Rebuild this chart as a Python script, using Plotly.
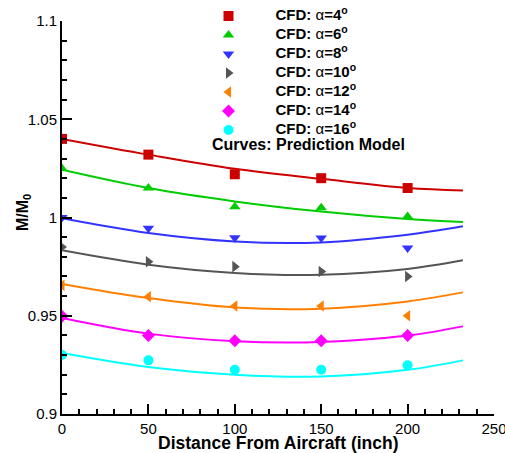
import plotly.graph_objects as go

# ---------------- data ----------------
x_cfd = [0, 50, 100, 150, 200]
alphas = [4, 6, 8, 10, 12, 14, 16]
cfd_values = {
    4:  [1.040, 1.032, 1.022, 1.020, 1.015],
    6:  [1.025, 1.015, 1.0055, 1.005, 1.0005],
    8:  [1.000, 0.9945, 0.9897, 0.9896, 0.9845],
    10: [0.985, 0.9775, 0.9750, 0.9725, 0.9700],
    12: [0.9655, 0.9597, 0.9550, 0.9550, 0.9500],
    14: [0.9497, 0.9400, 0.9373, 0.9373, 0.9400],
    16: [0.9300, 0.9273, 0.9225, 0.9225, 0.9248],
}
x_model = [0, 50, 100, 150, 200, 232]
model_values = {
    4:  [1.0400, 1.0320, 1.0248, 1.0197, 1.0150, 1.0138],
    6:  [1.0243, 1.0150, 1.0082, 1.0030, 0.9992, 0.9977],
    8:  [0.9996, 0.9921, 0.9878, 0.9873, 0.9912, 0.9955],
    10: [0.9833, 0.9760, 0.9718, 0.9709, 0.9738, 0.9782],
    12: [0.9662, 0.9590, 0.9542, 0.9536, 0.9573, 0.9619],
    14: [0.9489, 0.9409, 0.9370, 0.9366, 0.9399, 0.9446],
    16: [0.9310, 0.9239, 0.9200, 0.9191, 0.9225, 0.9273],
}
colors = {4: "#cc0000", 6: "#00cc00", 8: "#3333ff", 10: "#555555",
          12: "#ff8000", 14: "#ff00ff", 16: "#00ffff"}
symbols = {4: "square", 6: "triangle-up", 8: "triangle-down", 10: "triangle-right",
           12: "triangle-left", 14: "diamond", 16: "circle"}
y_ticks = [0.9, 0.95, 1.0, 1.05, 1.1]
y_tick_text = ["0.9", "0.95", "1", "1.05", "1.1"]
x_ticks = [0, 50, 100, 150, 200, 250]

FONT = "Liberation Sans, Arial, Helvetica, sans-serif"
L, R, T, B, W, H = 62, 11, 21, 39, 505, 453
PW, PH = W - L - R, H - T - B

fig = go.Figure()
for a in alphas:
    fig.add_trace(go.Scatter(
        x=x_model, y=model_values[a], mode="lines",
        line=dict(color=colors[a], width=2, shape="spline", smoothing=1.0),
        showlegend=False, hoverinfo="skip"))
for a in alphas:
    fig.add_trace(go.Scatter(
        x=x_cfd, y=cfd_values[a], mode="markers",
        marker=dict(symbol=symbols[a], color=colors[a], size=10, line=dict(width=0)),
        name=f"<span style='font-size:15px'><b>CFD:</b> α<b>={a}<sup>o</sup></b></span>"))

fig.add_annotation(text="<b>Curves: Prediction Model</b>", xref="paper", yref="paper",
                   x=(210 - L) / PW, y=(H - B - 144.5) / PH, xanchor="left", yanchor="middle",
                   showarrow=False, font=dict(size=16, color="black", family=FONT))
fig.add_annotation(text="<b>Distance From Aircraft (inch)</b>", xref="paper", yref="paper",
                   x=0.5, y=(H - B - 443.5) / PH, xanchor="center", yanchor="middle",
                   showarrow=False, font=dict(size=17.5, color="black", family=FONT))
fig.add_annotation(text="<b>M/M<sub>0</sub></b>", xref="paper", yref="paper",
                   x=(23 - L) / PW, y=(H - B - 213) / PH, xanchor="center", yanchor="middle",
                   textangle=-90, showarrow=False, font=dict(size=16, color="black", family=FONT))

fig.update_layout(
    width=W, height=H,
    margin=dict(l=L, r=R, t=T, b=B, autoexpand=False),
    plot_bgcolor="white", paper_bgcolor="white",
    font=dict(family=FONT, color="black", size=15),
    legend=dict(xref="container", yref="container", x=181.5 / W, y=1.0 - 1.5 / H,
                xanchor="left", yanchor="top",
                bgcolor="rgba(0,0,0,0)", font=dict(size=11, family=FONT),
                itemwidth=84, tracegroupgap=0),
    xaxis=dict(range=[0, 250], tickvals=x_ticks, ticks="inside", ticklen=10, tickwidth=2,
               tickcolor="black", showline=True, linecolor="black", linewidth=2,
               showgrid=False, zeroline=False, automargin=False, ticklabeloverflow="allow",
               minor=dict(dtick=10, ticks="inside", ticklen=5, tickwidth=1.5, tickcolor="black"),
               tickfont=dict(size=15)),
    yaxis=dict(range=[0.9, 1.1], tickvals=y_ticks, ticktext=y_tick_text, ticks="inside",
               ticklen=10, tickwidth=2, tickcolor="black", showline=True, linecolor="black",
               linewidth=2, showgrid=False, zeroline=False, automargin=False,
               minor=dict(dtick=0.01, ticks="inside", ticklen=5, tickwidth=1.5, tickcolor="black"),
               tickfont=dict(size=15)),
)

fig.write_html("out.html", config={"displayModeBar": False},
               post_script="document.body.style.margin='0';")
